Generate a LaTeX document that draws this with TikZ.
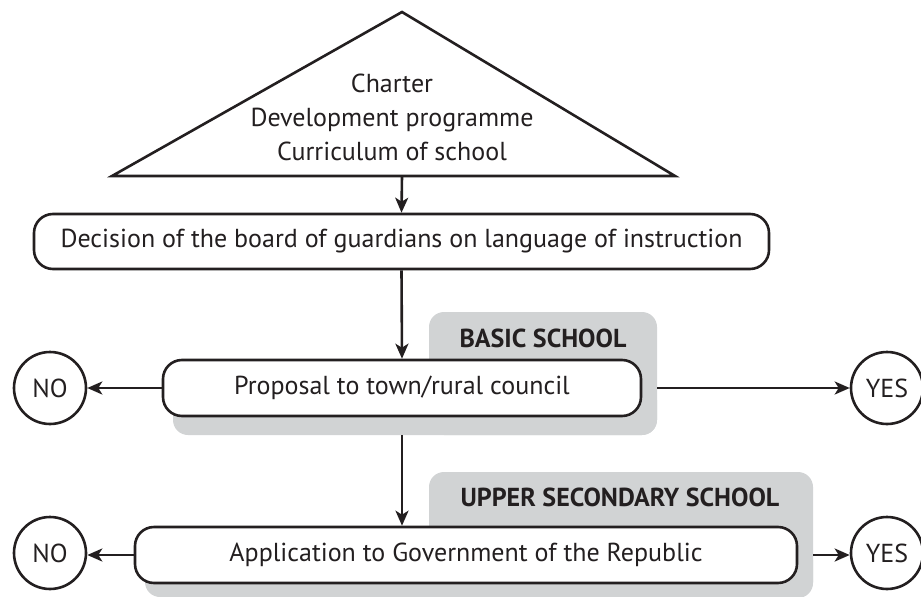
\documentclass[tikz,border=0pt]{standalone}
\usepackage{fontspec}
\setmainfont{PT Sans}
\usetikzlibrary{arrows.meta}
\definecolor{ink}{HTML}{231F20}
\definecolor{tabgray}{HTML}{D1D3D4}
\begin{document}
\begin{tikzpicture}[x=1pt,y=-1pt,
  every node/.style={text=ink, font=\fontsize{26}{34}\selectfont},
  line/.style={draw=ink, line width=2.6pt},
  arr/.style={line, -{Stealth[length=15pt,width=13pt,inset=4pt]}},
  roundbox/.style={line, fill=white, rounded corners=19pt, inner sep=0pt},
  graytab/.style={fill=tabgray, rounded corners=15pt, inner sep=0pt},
  answer/.style={line, circle, minimum size=72pt, inner sep=0pt},
  tablabel/.style={font=\fontsize{26}{34}\selectfont\bfseries}]
\useasboundingbox (0,0) rectangle (921,597);

% source documents
\draw[line, line join=miter] (402,12) -- (675,176) -- (112,176) -- cycle;
\coordinate (tribase) at (402,176);
\node[align=center] (docs) at (392,117) {Charter\\Development programme\\Curriculum of school};

% decision
\node[roundbox, minimum width=735pt, minimum height=55pt] (decision) at (401.5,241.5)
  {Decision of the board of guardians on language of instruction};

% basic school
\node[graytab, minimum width=228pt, minimum height=123pt] (tabA) at (543,373.5) {};
\node[graytab, minimum width=484pt, minimum height=50pt] (shadowA) at (415,410) {};
\node[tablabel] (labelA) at (543,338) {BASIC SCHOOL};
\node[roundbox, minimum width=478pt, minimum height=56pt] (proposal) at (402,388)
  {Proposal to town/rural council};

% upper secondary school
\node[graytab, minimum width=384pt, minimum height=126pt] (tabB) at (621,535) {};
\node[graytab, minimum width=668pt, minimum height=52pt] (shadowB) at (479,571) {};
\node[tablabel] (labelB) at (620,497) {UPPER SECONDARY SCHOOL};
\node[roundbox, minimum width=662pt, minimum height=56pt] (application) at (466,555)
  {Application to Government of the Republic};

% outcomes
\node[answer] (noA) at (50,388) {NO};
\node[answer] (yesA) at (887,388) {YES};
\node[answer] (noB) at (50,553) {NO};
\node[answer] (yesB) at (887,553) {YES};

% connectors
\coordinate (dropA) at (proposal.south |- tabA.south);
\draw[arr] (tribase) -- (decision.north);
\draw[arr] (decision.south) -- (proposal.north);
\draw[arr] (dropA) -- (dropA |- application.north);
\draw[arr] (proposal.west) -- (noA);
\draw[arr] (proposal -| tabA.east) -- (yesA);
\draw[arr] (application.west) -- (application.west -| noB.east);
\draw[arr] (application -| tabB.east) -- (application -| yesB.west);
\end{tikzpicture}
\end{document}
